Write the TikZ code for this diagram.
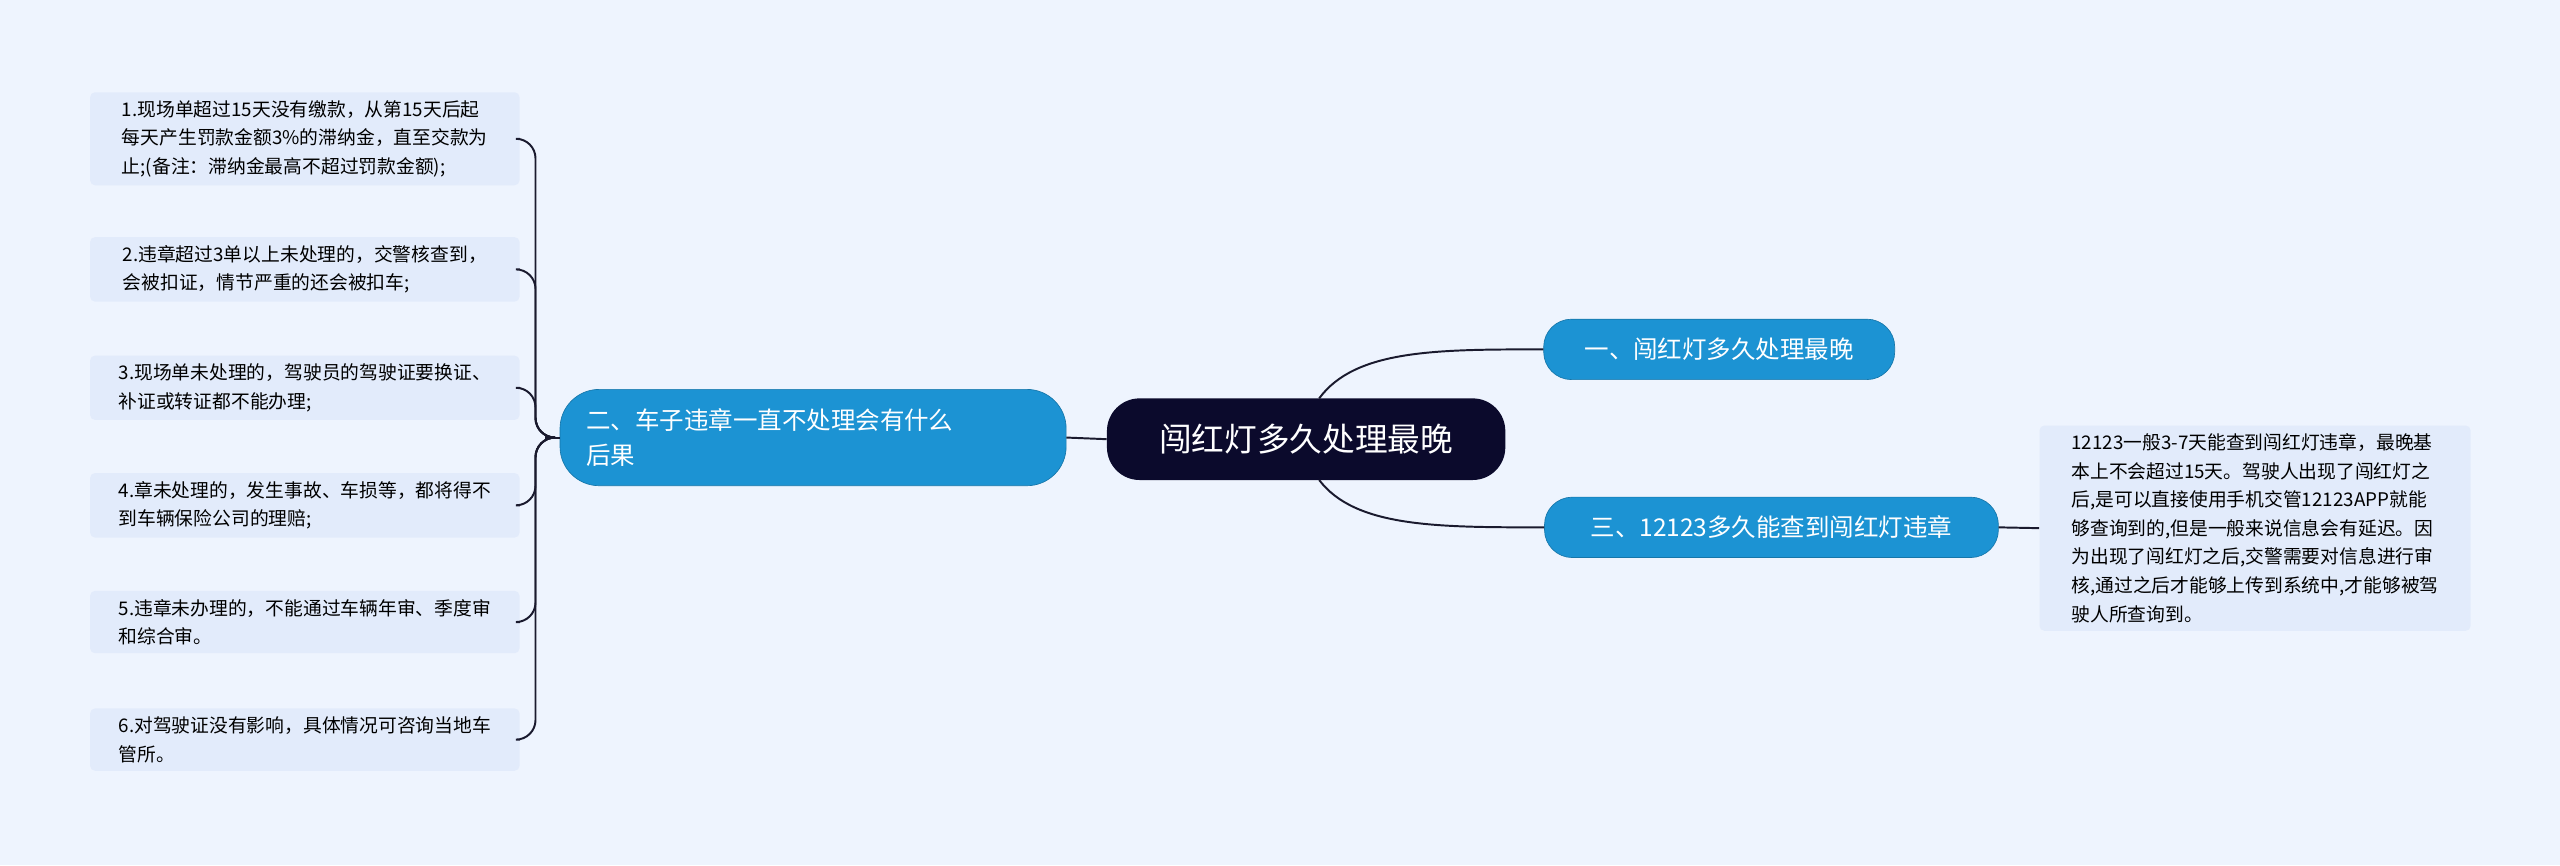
\documentclass[tikz,border=0pt]{standalone}
\usepackage{fontspec}
\setmainfont{Noto Sans CJK SC}
\definecolor{bg}{HTML}{EEF4FE}
\definecolor{navy}{HTML}{0B0A2C}
\definecolor{blu}{HTML}{1C93D3}
\definecolor{leaf}{HTML}{E2EBFB}
\definecolor{ln}{HTML}{1A1A2E}
\begin{document}
\begin{tikzpicture}[x=1pt,y=-1pt,
 root/.style={fill=navy,text=white,rounded corners=20pt,minimum width=244pt,minimum height=50pt,font=\fontsize{20}{24}\selectfont},
 topic/.style={fill=blu,draw=blu!80!black,line width=0.4pt,text=white,rounded corners=17pt,minimum height=37pt,font=\fontsize{15}{21}\selectfont,inner xsep=16pt},
 leafbox/.style={fill=leaf,rounded corners=3pt,minimum width=263pt,align=left,inner xsep=4pt,inner ysep=5pt,font=\fontsize{11.5}{17.5}\selectfont,anchor=west},
 conn/.style={draw=ln,line width=1.2pt}]
\fill[bg] (0,0) rectangle (1568,530);
\useasboundingbox (0,0) rectangle (1568,530);
\node[root] (c) at (800,269) {闯红灯多久处理最晚};
\node[topic,minimum width=215pt] (t1) at (1053,214) {一、闯红灯多久处理最晚};
\node[topic,minimum width=278pt] (t3) at (1085,323) {三、12123多久能查到闯红灯违章};
\node[topic,minimum width=310pt,minimum height=59pt,text width=278pt,align=left,rounded corners=24pt,font=\fontsize{15}{22}\selectfont] (t2) at (498,268) {二、车子违章一直不处理会有什么\\后果};
\node[leafbox,minimum width=264pt] (r) at (1249,323.5) {12123一般3-7天能查到闯红灯违章，最晚基\\本上不会超过15天。驾驶人出现了闯红灯之\\后,是可以直接使用手机交管12123APP就能\\够查询到的,但是一般来说信息会有延迟。因\\为出现了闯红灯之后,交警需要对信息进行审\\核,通过之后才能够上传到系统中,才能够被驾\\驶人所查询到。};
\node[leafbox] (l1) at (55,85) {1.现场单超过15天没有缴款，从第15天后起\\每天产生罚款金额3\%的滞纳金，直至交款为\\止;(备注：滞纳金最高不超过罚款金额);};
\node[leafbox] (l2) at (55,165) {2.违章超过3单以上未处理的，交警核查到，\\会被扣证，情节严重的还会被扣车;};
\node[leafbox] (l3) at (55,237.5) {3.现场单未处理的，驾驶员的驾驶证要换证、\\补证或转证都不能办理;};
\node[leafbox] (l4) at (55,309.5) {4.章未处理的，发生事故、车损等，都将得不\\到车辆保险公司的理赔;};
\node[leafbox] (l5) at (55,381) {5.违章未办理的，不能通过车辆年审、季度审\\和综合审。};
\node[leafbox] (l6) at (55,453) {6.对驾驶证没有影响，具体情况可咨询当地车\\管所。};
\draw[conn] (c.west) -- (t2.east);
\draw[conn] (808,244) .. controls (830,214) and (880,214) .. (t1.west);
\draw[conn] (808,294) .. controls (830,323) and (880,323) .. (t3.west);
\draw[conn] (t3.east) -- (r.west);
\coordinate (b) at (334,268);
\draw[conn] (t2.west) -- (b);
\foreach \n in {l1,l2,l3,l4,l5,l6}{
 \draw[conn,rounded corners=12pt] (b) -- (328,268) -- (328,0 |- \n.east) -- (\n.east);
}
\end{tikzpicture}
\end{document}
